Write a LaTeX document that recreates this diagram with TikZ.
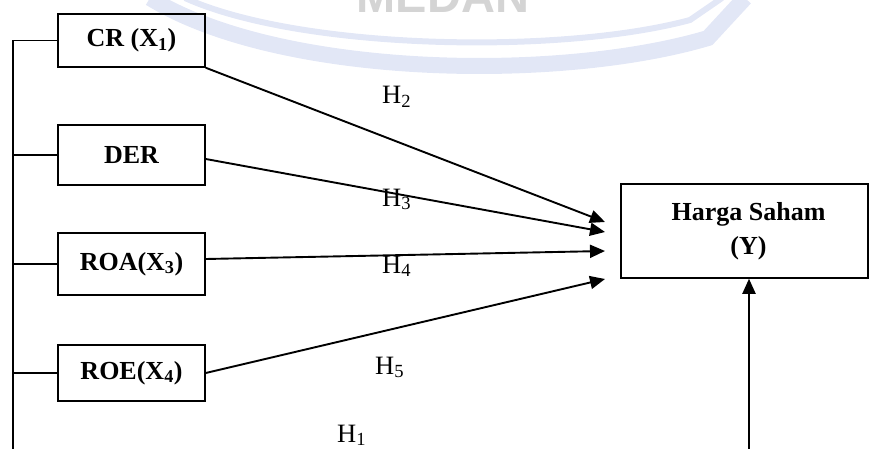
\documentclass[tikz,border=0pt]{standalone}
\usepackage{fontspec}
\setmainfont{Liberation Serif}
\setsansfont{Liberation Sans}
\usetikzlibrary{arrows.meta}
\definecolor{wm}{RGB}{226,231,246}
\definecolor{wmtext}{RGB}{212,212,212}
\begin{document}
\begin{tikzpicture}[x=1pt,y=-1pt,
  box/.style={draw, line width=1.5pt, inner sep=0pt, align=center,
    font=\fontsize{26}{34}\selectfont\bfseries},
  conn/.style={line width=1.6pt},
  arr/.style={line width=1.9pt, -{Triangle[length=15pt,width=13pt]}},
  hlab/.style={anchor=base west, inner sep=0pt, font=\fontsize{26.5}{30}\selectfont}]
\useasboundingbox (0,0) rectangle (869,449);
% watermark
\begin{scope}
  \clip (0,0) rectangle (869,449);
  \node[font=\sffamily\bfseries\fontsize{47}{50}\selectfont, text=wmtext, anchor=base, inner sep=0pt] (wmt) at (443,13) {MEDAN};
  \draw[wm, line width=6pt] (185,-2) .. controls (300,50) and (560,55) .. (690,20) -- (722,-2);
  \draw[wm, line width=16pt] (150,-2) .. controls (280,78) and (560,82) .. (708,38) -- (745,-2);
\end{scope}
% boxes
\node[box, minimum width=147pt, minimum height=53pt] (cr) at (131.5,40.5) {CR (X\textsubscript{1})};
\node[box, minimum width=147pt, minimum height=60pt] (der) at (131.5,155) {DER};
\node[box, minimum width=147pt, minimum height=62pt] (roa) at (131.5,264) {ROA(X\textsubscript{3})};
\node[box, minimum width=147pt, minimum height=56pt] (roe) at (131.5,373) {ROE(X\textsubscript{4})};
\node[box, minimum width=247pt, minimum height=94pt] (y) at (744.5,231) {\hspace*{8pt}Harga Saham\\\hspace*{8pt}(Y)};
% left bus
\coordinate (lb) at (13,449);
\draw[conn] (lb) |- (cr.west);
\draw[conn] (lb |- der.west) -- (der.west);
\draw[conn] (lb |- roa.west) -- (roa.west);
\draw[conn] (lb |- roe.west) -- (roe.west);
% arrows
\coordinate (e1) at (605,222);
\coordinate (e2) at (605,232);
\coordinate (e3) at (605,251);
\coordinate (e4) at (605,279);
\draw[arr] (cr.south east) -- (e1);
\draw[arr] ([yshift=-4pt]der.east) -- (e2);
\draw[arr] ([yshift=5pt]roa.east) -- (e3);
\draw[arr] (roe.east) -- (e4);
\coordinate (vb) at (749,449);
\draw[arr] (vb) -- (vb |- y.south);
% labels
\node[hlab] (h2) at (382,104) {H\textsubscript{2}};
\node[hlab] (h3) at (382,206) {H\textsubscript{3}};
\node[hlab] (h4) at (382,273) {H\textsubscript{4}};
\node[hlab] (h5) at (375,374) {H\textsubscript{5}};
\node[hlab] (h1) at (337,442) {H\textsubscript{1}};
\end{tikzpicture}
\end{document}
